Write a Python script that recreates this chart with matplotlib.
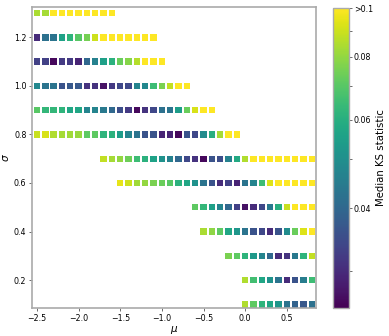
import numpy as np
import matplotlib
matplotlib.use("Agg")
import matplotlib.pyplot as plt
from matplotlib.colors import LogNorm
from matplotlib.ticker import NullFormatter

# ---------------------------------------------------------------------------
# Data: median KS statistic per (mu, sigma) grid cell, one list per sigma row
# values >= 0.1 are shown as the saturated ">0.1" colour
# ---------------------------------------------------------------------------

SIGMAS = [1.3, 1.2, 1.1, 1.0, 0.9, 0.8, 0.7, 0.6, 0.5, 0.4, 0.3, 0.2, 0.1]
MU_START = [-2.5, -2.5, -2.5, -2.5, -2.5, -2.5, -1.7, -1.5, -0.6, -0.5, -0.2, 0.0, 0.0]

ks_130 = [0.084, 0.083, 0.11, 0.11, 0.11, 0.11, 0.11, 0.11, 0.11, 0.11]
ks_120 = [0.030, 0.042, 0.043, 0.056, 0.062, 0.070, 0.075, 0.090,
          0.11, 0.11, 0.11, 0.11, 0.11, 0.11, 0.11]
ks_110 = [0.033, 0.033, 0.026, 0.032, 0.032, 0.029, 0.040, 0.046,
          0.055, 0.061, 0.073, 0.078, 0.086, 0.11, 0.11, 0.11]
ks_100 = [0.048, 0.043, 0.043, 0.036, 0.037, 0.037, 0.031, 0.031,
          0.027, 0.032, 0.034, 0.034, 0.047, 0.048, 0.065, 0.076,
          0.088, 0.11, 0.11]
ks_090 = [0.070, 0.063, 0.063, 0.062, 0.057, 0.057, 0.047, 0.047,
          0.044, 0.040, 0.035, 0.032, 0.026, 0.031, 0.034, 0.042,
          0.043, 0.054, 0.073, 0.092, 0.11, 0.11]
ks_080 = [0.089, 0.092, 0.085, 0.083, 0.082, 0.081, 0.071, 0.071,
          0.062, 0.061, 0.054, 0.047, 0.043, 0.036, 0.036, 0.029,
          0.029, 0.026, 0.036, 0.034, 0.049, 0.060, 0.083, 0.11, 0.11]
ks_070 = [0.088, 0.083, 0.080, 0.074, 0.065, 0.061, 0.056, 0.051,
          0.046, 0.040, 0.034, 0.031, 0.026, 0.036, 0.035, 0.046,
          0.058, 0.085, 0.11, 0.11, 0.11, 0.11, 0.11, 0.11, 0.11, 0.11]
ks_060 = [0.095, 0.090, 0.082, 0.080, 0.076, 0.073, 0.070, 0.061,
          0.057, 0.051, 0.043, 0.036, 0.030, 0.033, 0.029, 0.043,
          0.047, 0.065, 0.093, 0.11, 0.11, 0.11, 0.11, 0.11]
ks_050 = [0.071, 0.063, 0.055, 0.047, 0.040, 0.033, 0.027, 0.030,
          0.034, 0.044, 0.060, 0.089, 0.11, 0.11, 0.11]
ks_040 = [0.084, 0.079, 0.071, 0.057, 0.052, 0.043, 0.036, 0.034,
          0.030, 0.036, 0.049, 0.073, 0.093, 0.105]
ks_030 = [0.076, 0.071, 0.062, 0.053, 0.047, 0.040, 0.030, 0.031,
          0.044, 0.062, 0.088]
ks_020 = [0.085, 0.066, 0.057, 0.051, 0.043, 0.030, 0.036, 0.045, 0.065]
ks_010 = [0.085, 0.071, 0.062, 0.057, 0.052, 0.043, 0.039, 0.037, 0.042]

KS_ROWS = [ks_130, ks_120, ks_110, ks_100, ks_090, ks_080, ks_070,
           ks_060, ks_050, ks_040, ks_030, ks_020, ks_010]

CBAR_TICKS = [0.04, 0.06, 0.08, 0.1]
CBAR_LABELS = ["0.04", "0.06", "0.08", ">0.1"]

# ---------------------------------------------------------------------------
# Flatten to points
# ---------------------------------------------------------------------------

mu, sigma, ks = [], [], []
for s, m0, row in zip(SIGMAS, MU_START, KS_ROWS):
    for i, v in enumerate(row):
        mu.append(round(m0 + 0.1 * i, 1))
        sigma.append(s)
        ks.append(v)

# ---------------------------------------------------------------------------
# Plot
# ---------------------------------------------------------------------------

plt.rcParams["font.family"] = "DejaVu Sans"
plt.rcParams["font.size"] = 5.7

fig = plt.figure(figsize=(3.89, 3.36), dpi=100)
ax = fig.add_axes([32 / 389, 28 / 336, 284 / 389, 301 / 336])
cax = fig.add_axes([333 / 389, 28 / 336, 16 / 389, 300 / 336])

norm = LogNorm(vmin=0.0253, vmax=0.1)
sc = ax.scatter(mu, sigma, c=ks, cmap="viridis", norm=norm,
                marker="s", s=21, linewidths=0)

ax.set_xlim(-2.56, 0.85)
ax.set_ylim(0.085, 1.325)
ax.set_xticks([-2.5, -2.0, -1.5, -1.0, -0.5, 0.0, 0.5])
ax.set_yticks([0.2, 0.4, 0.6, 0.8, 1.0, 1.2])
ax.set_xlabel(r"$\mu$", fontsize=7.5, labelpad=1)
ax.set_ylabel(r"$\sigma$", fontsize=7.5, labelpad=2)

for spine in ax.spines.values():
    spine.set_edgecolor("#aaaaaa")
    spine.set_linewidth(1.2)
ax.tick_params(length=2.5, width=0.6, color="#555555", pad=1.5, labelsize=5.7)

cbar = fig.colorbar(sc, cax=cax)
cbar.set_ticks(CBAR_TICKS)
cbar.set_ticklabels(CBAR_LABELS)
cax.yaxis.set_minor_formatter(NullFormatter())
cbar.outline.set_edgecolor("#aaaaaa")
cbar.outline.set_linewidth(1.0)
cax.tick_params(which="both", length=2, width=0.6, color="#555555", pad=1.5, labelsize=5.7)
cbar.set_label("Median KS statistic", fontsize=7.3, labelpad=2)

fig.savefig("out.png", dpi=100)
